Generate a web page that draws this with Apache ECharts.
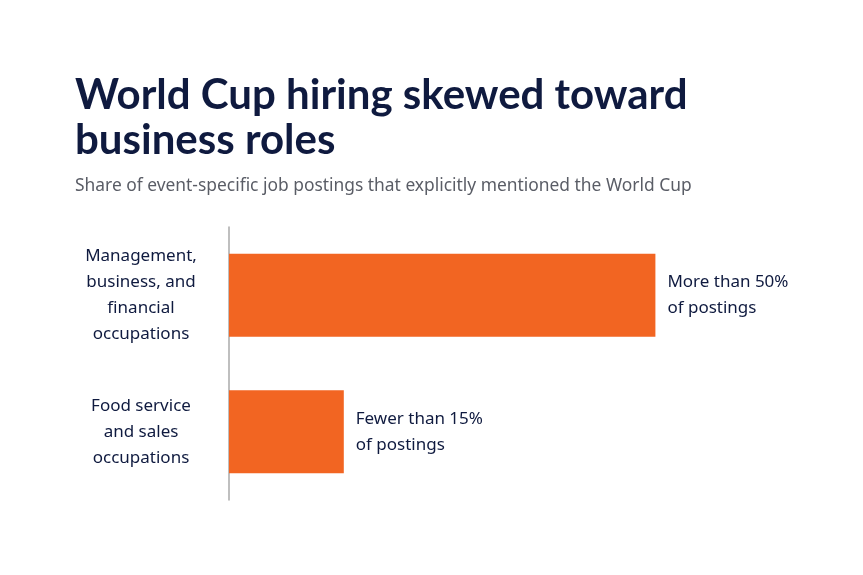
<!DOCTYPE html>
<html>
<head>
<meta charset="utf-8">
<script src="https://cdn.jsdelivr.net/npm/echarts@6/dist/echarts.min.js"></script>
<style>html,body{margin:0;padding:0;background:#fff;}#c{width:863px;height:575px;}</style>
</head>
<body>
<div id="c"></div>
<script>
const categories = ["Management,\nbusiness, and\nfinancial\noccupations", "Food service\nand sales\noccupations"];
const values = [52, 14];
const valueLabels = ["More than 50%\nof postings", "Fewer than 15%\nof postings"];

const navy = '#0f1a3f';
const chart = echarts.init(document.getElementById('c'));
chart.setOption({
  backgroundColor: '#ffffff',
  animation: false,
  title: [
    {
      text: 'World Cup hiring skewed toward\nbusiness roles',
      left: 75, top: 73, padding: 0,
      textStyle: { fontFamily: 'Lato', fontWeight: 'bold', fontSize: 42, lineHeight: 45, color: navy }
    },
    {
      text: 'Share of event-specific job postings that explicitly mentioned the World Cup',
      left: 75, top: 178, padding: 0,
      textStyle: { fontFamily: 'Noto Sans', fontWeight: 'normal', fontSize: 17.4, color: '#5a5d66' }
    }
  ],
  grid: { left: 229, top: 227, height: 273, width: 574, containLabel: false },
  xAxis: { type: 'value', min: 0, max: 70, show: false },
  yAxis: {
    type: 'category',
    data: categories,
    inverse: true,
    axisLine: { show: true, lineStyle: { color: '#aaaaaa', width: 1.5 } },
    axisTick: { show: false },
    axisLabel: { margin: 88, align: 'center', fontFamily: 'Noto Sans', fontSize: 17, lineHeight: 26, color: navy }
  },
  series: [{
    type: 'bar', data: values.map((v, i) => ({ value: v, label: { formatter: valueLabels[i] } })),
    barWidth: 83,
    itemStyle: { color: '#f26522' },
    label: { show: true, position: 'right', distance: 12, align: 'left', fontFamily: 'Noto Sans', fontSize: 17, lineHeight: 26, color: navy }
  }]
});
</script>
</body>
</html>
